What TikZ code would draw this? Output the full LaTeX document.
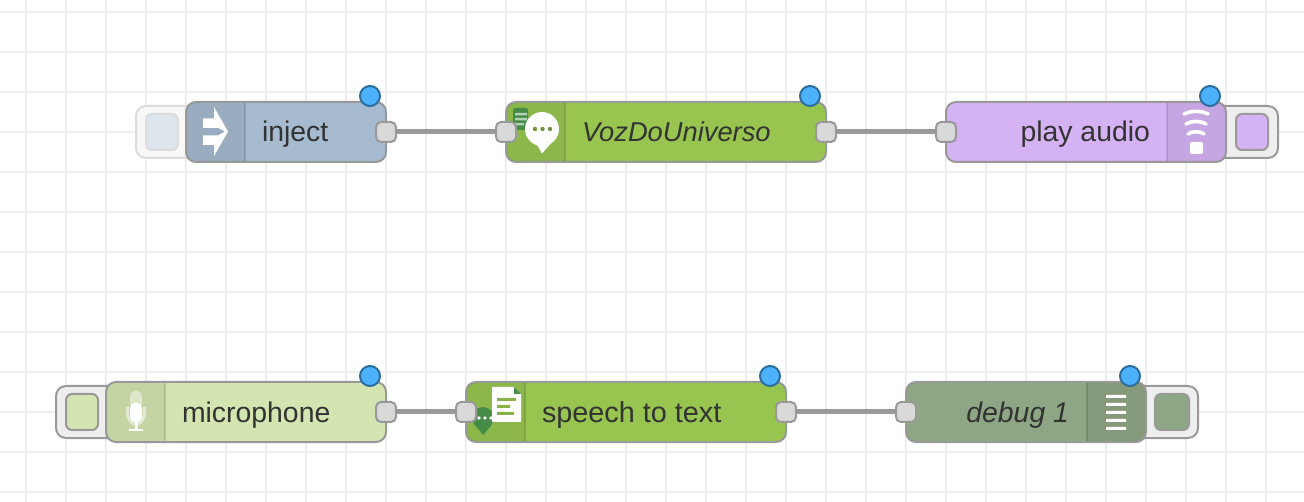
\documentclass[tikz,border=0pt]{standalone}
\usepackage{fontspec}
\setmainfont{Liberation Sans}
\definecolor{gridc}{HTML}{EEEEEE}
\definecolor{edge}{HTML}{999999}
\definecolor{injectc}{HTML}{A6BBCF}
\definecolor{funcc}{HTML}{97C550}
\definecolor{playc}{HTML}{D5B2F4}
\definecolor{micc}{HTML}{D3E5B0}
\definecolor{debugc}{HTML}{8FA684}
\definecolor{portc}{HTML}{D9D9D9}
\definecolor{badgec}{HTML}{4BB2FB}
\definecolor{badgee}{HTML}{2A6D9E}
\definecolor{textc}{HTML}{333333}
\definecolor{dkgreen}{HTML}{458C46}
\tikzset{
  x=1pt,y=-1pt,
  body/.style={draw=edge,line width=2pt,rounded corners=10pt,minimum height=60pt,inner sep=0pt,outer sep=0pt},
  port/.style={draw=edge,line width=2pt,fill=portc,rounded corners=5pt,minimum size=20pt,inner sep=0pt,outer sep=0pt},
  badge/.style={circle,draw=badgee,line width=2pt,fill=badgec,minimum size=20pt,inner sep=0pt,outer sep=0pt},
  wire/.style={draw=edge,line width=5pt},
  label/.style={text=textc,font=\fontsize{28.4}{30}\selectfont,inner sep=0pt,outer sep=0pt,text height=20pt,text depth=0pt},
  outerbtn/.style={draw=edge,line width=2pt,fill=gridc,rounded corners=10pt,minimum height=52pt,inner sep=0pt,outer sep=0pt},
  innerbtn/.style={draw=edge,line width=2pt,rounded corners=6pt,minimum width=32pt,minimum height=36pt,inner sep=0pt,outer sep=0pt},
  band/.style={fill=black,fill opacity=.07},
  divider/.style={draw=black,draw opacity=.12,line width=2pt},
  icon/.style={fill=white,draw=none},
}
\begin{document}
\begin{tikzpicture}
\useasboundingbox (0,0) rectangle (1304,502);
\fill[white] (0,0) rectangle (1304,502);
% grid
\foreach \gx in {26,66,...,1306} \draw[gridc,line width=2pt] (\gx,0) -- (\gx,502);
\foreach \gy in {12,52,...,492} \draw[gridc,line width=2pt] (0,\gy) -- (1304,\gy);

% buttons
\node[outerbtn,minimum width=72pt,draw=edge!35,fill=gridc!45] (btnA) at (172,132) {};
\node[innerbtn,draw=edge!35,fill=injectc!38] (btnAi) at (162,132) {};
\node[outerbtn,minimum width=80pt] (btnC) at (1238,132) {};
\node[innerbtn,fill=playc] (btnCi) at (1252,132) {};
\node[outerbtn,minimum width=72pt] (btnD) at (92,412) {};
\node[innerbtn,fill=micc] (btnDi) at (82,412) {};
\node[outerbtn,minimum width=80pt] (btnF) at (1158,412) {};
\node[innerbtn,fill=debugc,minimum width=34pt] (btnFi) at (1172,412) {};

% bodies
\node[body,fill=injectc,minimum width=200pt] (nA) at (286,132) {};
\node[body,fill=funcc,minimum width=320pt] (nB) at (666,132) {};
\node[body,fill=playc,minimum width=280pt] (nC) at (1086,132) {};
\node[body,fill=micc,minimum width=280pt] (nD) at (246,412) {};
\node[body,fill=funcc,minimum width=320pt] (nE) at (626,412) {};
\node[body,fill=debugc,minimum width=240pt] (nF) at (1026,412) {};

% icon bands
\fill[band] (245,103) [rounded corners=9pt] -- (187,103) -- (187,161) [sharp corners] -- (245,161) -- cycle;
\draw[divider] (245,103) -- (245,161);
\fill[band] (565,103) [rounded corners=9pt] -- (507,103) -- (507,161) [sharp corners] -- (565,161) -- cycle;
\draw[divider] (565,103) -- (565,161);
\fill[band] (1167,103) [rounded corners=9pt] -- (1225,103) -- (1225,161) [sharp corners] -- (1167,161) -- cycle;
\draw[divider] (1167,103) -- (1167,161);
\fill[band] (165,383) [rounded corners=9pt] -- (107,383) -- (107,441) [sharp corners] -- (165,441) -- cycle;
\draw[divider] (165,383) -- (165,441);
\fill[band] (525,383) [rounded corners=9pt] -- (467,383) -- (467,441) [sharp corners] -- (525,441) -- cycle;
\draw[divider] (525,383) -- (525,441);
\fill[band] (1087,383) [rounded corners=9pt] -- (1145,383) -- (1145,441) [sharp corners] -- (1087,441) -- cycle;
\draw[divider] (1087,383) -- (1087,441);

% inject icon
\fill[icon] (203,118.5) -- (214,118.5) -- (214,107) -- (228,131.5) -- (214,156) -- (214,145) -- (203,145) -- (203,135.5) -- (218,135.5) -- (225,131.5) -- (218,128) -- (203,128) -- cycle;

% VozDoUniverso icon
\fill[dkgreen,rounded corners=2pt] (513,108) rectangle (528,130);
\fill[white,opacity=.6] (515,113) rectangle (527,115.5) (515,118) rectangle (527,120.5) (515,123) rectangle (524,125.5);
\fill[icon] (542,129) circle (17);
\fill[icon] (536,143) -- (542,153.5) -- (553,141) -- cycle;
\fill[funcc!75!black] (535,129) circle (2.2) (542.5,129) circle (2.2) (550,129) circle (2.2);

% wifi icon
\begin{scope}[line width=3.6pt,white,line cap=round]
\draw (1184,114) .. controls (1192,110.5) and (1201,110.5) .. (1208,114);
\draw (1186,124) .. controls (1192,120.5) and (1200,120.5) .. (1206,124);
\draw (1188,134) .. controls (1192,131) and (1200,131) .. (1204,134);
\end{scope}
\fill[icon,rounded corners=2pt] (1190,142) rectangle (1203,154);

% microphone icon
\fill[white,opacity=.45,rounded corners=5pt] (130,391) rectangle (142,408);
\fill[white,rounded corners=5pt] (130,403) rectangle (142,422);
\draw[white,opacity=.55,line width=3pt] (127.5,407) -- (127.5,412) .. controls (127.5,419) and (131,424) .. (136,424) .. controls (141,424) and (144.5,419) .. (144.5,412) -- (144.5,407);
\draw[white,line width=3pt] (136,422) -- (136,430);
\draw[white,line width=2.4pt] (129,430) -- (143,430);

% speech to text icon
\fill[dkgreen] (483,418) circle (11);
\fill[dkgreen] (476,426) -- (483,435) -- (491,426) -- cycle;
\fill[icon] (492,387) -- (514,387) -- (521,394) -- (521,422) -- (492,422) -- cycle;
\fill[dkgreen] (514,387) -- (521,394) -- (514,394) -- cycle;
\fill[funcc!90!black] (497,398) rectangle (516,401) (497,405) rectangle (510,408) (497,412) rectangle (514,415);
\fill[white] (479,418) circle (1.8) (485,418) circle (1.8) (491,418) circle (1.8);

% debug icon
\fill[icon] (1106,395) rectangle (1126,398) (1106,403) rectangle (1126,406) (1106,411) rectangle (1126,414) (1106,419) rectangle (1126,422) (1106,427) rectangle (1126,430);

% ports
\node[port] (oA) at (386,132) {};
\node[port] (iB) at (506,132) {};
\node[port] (oB) at (826,132) {};
\node[port] (iC) at (946,132) {};
\node[port] (oD) at (386,412) {};
\node[port] (iE) at (466,412) {};
\node[port] (oE) at (786,412) {};
\node[port] (iF) at (906,412) {};

% wires
\draw[wire] (oA) -- (iB);
\draw[wire] (oB) -- (iC);
\draw[wire] (oD) -- (iE);
\draw[wire] (oE) -- (iF);

% badges
\node[badge] (bA) at (370,96) {};
\node[badge] (bB) at (810,96) {};
\node[badge] (bC) at (1210,96) {};
\node[badge] (bD) at (370,376) {};
\node[badge] (bE) at (770,376) {};
\node[badge] (bF) at (1130,376) {};

% labels
\node[label,anchor=west] (tA) at (262,132) {inject};
\node[label,anchor=west,font=\fontsize{27.3}{30}\selectfont\itshape] (tB) at (582,132) {VozDoUniverso};
\node[label,anchor=east] (tC) at (1150,132) {play audio};
\node[label,anchor=west] (tD) at (182,412) {microphone};
\node[label,anchor=west,font=\fontsize{28.8}{30}\selectfont] (tE) at (542,412) {speech to text};
\node[label,anchor=east,font=\fontsize{28.4}{30}\selectfont\itshape] (tF) at (1069,412) {debug 1};
\end{tikzpicture}
\end{document}
